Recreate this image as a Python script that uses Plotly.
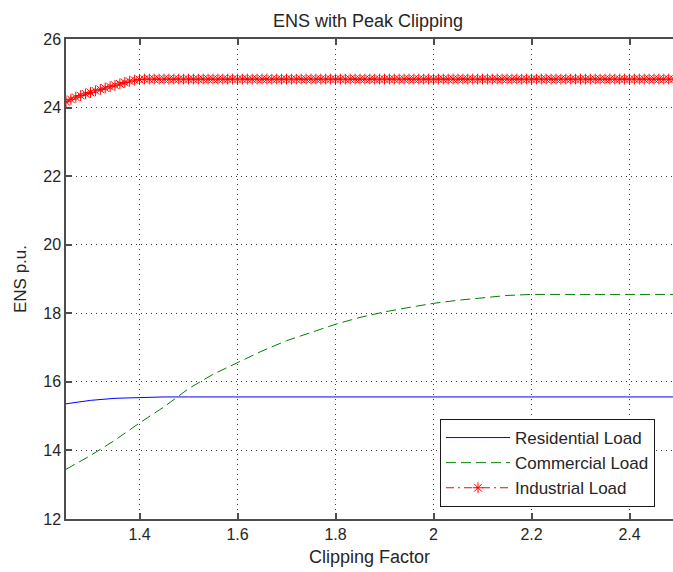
import numpy as np
import plotly.graph_objects as go

# Clipping factor samples
clip_coarse = np.round(np.arange(1.25, 2.5001, 0.05), 2)
clip_fine = np.round(np.arange(1.25, 2.5001, 0.01), 2)

# Energy not supplied (p.u.) per load type
residential = [15.36, 15.46, 15.52, 15.55, 15.56, 15.56, 15.56, 15.56, 15.56, 15.56,
               15.56, 15.56, 15.56, 15.56, 15.56, 15.56, 15.56, 15.56, 15.56, 15.56,
               15.56, 15.56, 15.56, 15.56, 15.56, 15.56]
commercial = [13.45, 13.85, 14.3, 14.8, 15.27, 15.8, 16.22, 16.57, 16.9, 17.2,
              17.45, 17.68, 17.88, 18.04, 18.17, 18.29, 18.38, 18.46, 18.52, 18.55,
              18.55, 18.55, 18.55, 18.55, 18.55, 18.55]
industrial = [24.17, 24.24, 24.30, 24.35, 24.40, 24.44, 24.49, 24.53, 24.57, 24.61,
              24.65, 24.69, 24.73, 24.77, 24.80, 24.82, 24.83, 24.83, 24.83, 24.83,
              24.83, 24.83, 24.83, 24.83, 24.83, 24.83, 24.83, 24.83, 24.83, 24.83,
              24.83, 24.83, 24.83, 24.83, 24.83, 24.83, 24.83, 24.83, 24.83, 24.83,
              24.83, 24.83, 24.83, 24.83, 24.83, 24.83, 24.83, 24.83, 24.83, 24.83,
              24.83, 24.83, 24.83, 24.83, 24.83, 24.83, 24.83, 24.83, 24.83, 24.83,
              24.83, 24.83, 24.83, 24.83, 24.83, 24.83, 24.83, 24.83, 24.83, 24.83,
              24.83, 24.83, 24.83, 24.83, 24.83, 24.83, 24.83, 24.83, 24.83, 24.83,
              24.83, 24.83, 24.83, 24.83, 24.83, 24.83, 24.83, 24.83, 24.83, 24.83,
              24.83, 24.83, 24.83, 24.83, 24.83, 24.83, 24.83, 24.83, 24.83, 24.83,
              24.83, 24.83, 24.83, 24.83, 24.83, 24.83, 24.83, 24.83, 24.83, 24.83,
              24.83, 24.83, 24.83, 24.83, 24.83, 24.83, 24.83, 24.83, 24.83, 24.83,
              24.83, 24.83, 24.83, 24.83, 24.83, 24.83]

x_ticks = [1.4, 1.6, 1.8, 2.0, 2.2, 2.4]
x_tick_text = ["1.4", "1.6", "1.8", "2", "2.2", "2.4"]
y_ticks = [12, 14, 16, 18, 20, 22, 24, 26]

FONT = "Liberation Sans, Arial, sans-serif"
INK = "#262626"

fig = go.Figure()
fig.add_trace(go.Scatter(
    x=clip_coarse, y=residential, mode="lines", name="Residential Load",
    line=dict(color="rgb(0,0,255)", width=1)))
fig.add_trace(go.Scatter(
    x=clip_coarse, y=commercial, mode="lines", name="Commercial Load",
    line=dict(color="rgb(0,128,0)", width=1, dash="10px,5px")))
fig.add_trace(go.Scatter(
    x=clip_fine, y=industrial, mode="lines+markers", name="Industrial Load",
    line=dict(color="rgb(255,0,0)", width=1, dash="8px,4px,2px,4px"),
    marker=dict(symbol="asterisk-open", size=9, color="rgb(255,0,0)",
                line=dict(color="rgb(255,0,0)", width=1))))

axis_common = dict(
    showline=True, linecolor="#4d4d4d", linewidth=1.5,
    ticks="inside", ticklen=6, tickcolor="#4d4d4d", tickwidth=1.5,
    showgrid=True, gridcolor="#3a3a3a", gridwidth=1, griddash="1px,4px",
    zeroline=False, tickfont=dict(family=FONT, size=16, color=INK),
)

fig.update_xaxes(
    range=[1.25, 1.25 + 607 / 490], tickvals=x_ticks, ticktext=x_tick_text,
    mirror="ticks",
    title=dict(text="Clipping Factor", font=dict(family=FONT, size=18, color=INK),
               standoff=8),
    **axis_common)
fig.update_yaxes(
    range=[12, 26], tickvals=y_ticks, mirror=False,
    title=dict(text="ENS p.u.", font=dict(family=FONT, size=17, color=INK),
               standoff=12),
    **axis_common)

fig.update_layout(
    width=673, height=572,
    margin=dict(l=66, r=0, t=39, b=53),
    paper_bgcolor="white", plot_bgcolor="white",
    title=dict(text="ENS with Peak Clipping", x=368 / 673, xanchor="center",
               y=1 - 21 / 572, yanchor="middle",
               font=dict(family=FONT, size=18, color=INK)),
    legend=dict(
        x=(440 - 66) / 607, y=(519 - 419) / 480, xanchor="left", yanchor="top",
        bgcolor="white", bordercolor="#1a1a1a", borderwidth=1,
        font=dict(family=FONT, size=17, color=INK),
        traceorder="normal", itemwidth=64,
    ),
    showlegend=True,
)

fig.write_html("out.html")
